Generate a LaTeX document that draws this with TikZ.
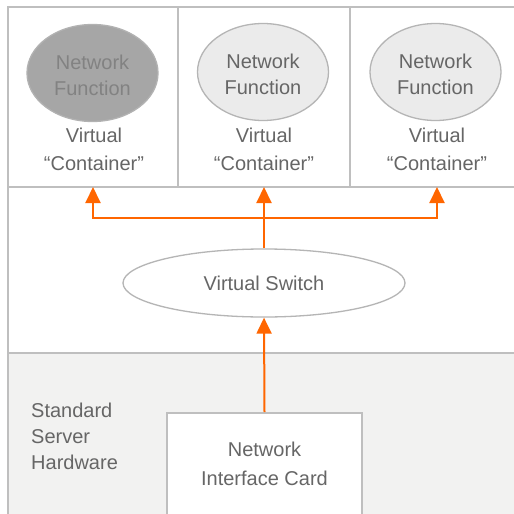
\documentclass[tikz,border=0pt]{standalone}
\usepackage{fontspec}
\setmainfont{Liberation Sans}
\usetikzlibrary{shapes.geometric,arrows.meta,calc}
\definecolor{linegray}{HTML}{BFBFBF}
\definecolor{hwfill}{HTML}{F2F2F1}
\definecolor{txtgray}{HTML}{666666}
\definecolor{darkfill}{HTML}{A6A6A6}
\definecolor{darktxt}{HTML}{828282}
\definecolor{lightfill}{HTML}{EBEBEB}
\definecolor{ellborder}{HTML}{B5B5B5}
\definecolor{arrorange}{HTML}{FF6600}
\newcommand\dfont[1]{\fontsize{20}{#1}\selectfont}
\begin{document}
\begin{tikzpicture}[x=1pt,y=-1pt,
  layer/.style={draw=linegray, line width=1.8pt, inner sep=0pt, outer sep=0pt, anchor=north west},
  nf/.style={ellipse, draw=ellborder, line width=1.3pt, minimum width=131pt, minimum height=97pt,
    inner sep=0pt, align=center, font=\dfont{26}, text=txtgray, fill=lightfill},
  txt/.style={inner sep=0pt, align=center, font=\dfont{28}, text=txtgray},
  arr/.style={draw=arrorange, line width=2pt, -{Triangle[width=15pt,length=16pt]}}
]
\useasboundingbox (0,0) rectangle (514,514);
\fill[white] (0,0) rectangle (514,514);
\begin{scope}
\clip (0,0) rectangle (514,514);
% layers
\node[layer, fill=hwfill, minimum width=516pt, minimum height=180pt] (hw) at (8,353) {};
\node[layer, minimum width=516pt, minimum height=166pt] (mid) at (8,187) {};
\node[layer, minimum width=170pt, minimum height=180pt] (cell1) at (8,7) {};
\node[layer, minimum width=172pt, minimum height=180pt] (cell2) at (178,7) {};
\node[layer, minimum width=174pt, minimum height=180pt] (cell3) at (350,7) {};
% network functions
\node[nf, fill=darkfill, draw=ellborder!80!darkfill, text=darktxt] (nf1) at (92.5,73) {\rule{0pt}{19.5pt}Network\\Function};
\node[nf] (nf2) at (263,72) {\rule{0pt}{19.5pt}Network\\Function};
\node[nf] (nf3) at (435.5,72) {\rule{0pt}{19.5pt}Network\\Function};
\node[txt] (vc1) at (94,149) {Virtual\\“Container”};
\node[txt] (vc2) at (264,149) {Virtual\\“Container”};
\node[txt] (vc3) at (437,149) {Virtual\\“Container”};
% virtual switch
\node[ellipse, draw=ellborder, line width=1.3pt, fill=white, minimum width=282pt, minimum height=68pt,
  inner sep=0pt, font=\dfont{24}, text=txtgray] (sw) at (264,283) {Virtual Switch};
% hardware
\node[txt, align=left, font=\dfont{26}, anchor=west] (shw) at (31,436) {Standard\\Server\\Hardware};
\node[draw=linegray, line width=1.8pt, fill=white, minimum width=195pt, minimum height=106pt,
  inner sep=0pt, anchor=north, align=center, font=\dfont{29}, text=txtgray] (nic) at (264.5,412) {Network\\Interface Card\rule[-5pt]{0pt}{5pt}};
% arrows
\draw[arr] (nic.north) -- (sw.north |- sw.south);
\draw[arr] (sw.north) -- (cell2.south);
\coordinate (jn) at ($(sw.north)!0.5!(cell2.south)$);
\draw[arr] (jn) -| (cell1.south);
\draw[arr] (jn) -| (cell3.south);
\end{scope}
\end{tikzpicture}
\end{document}
